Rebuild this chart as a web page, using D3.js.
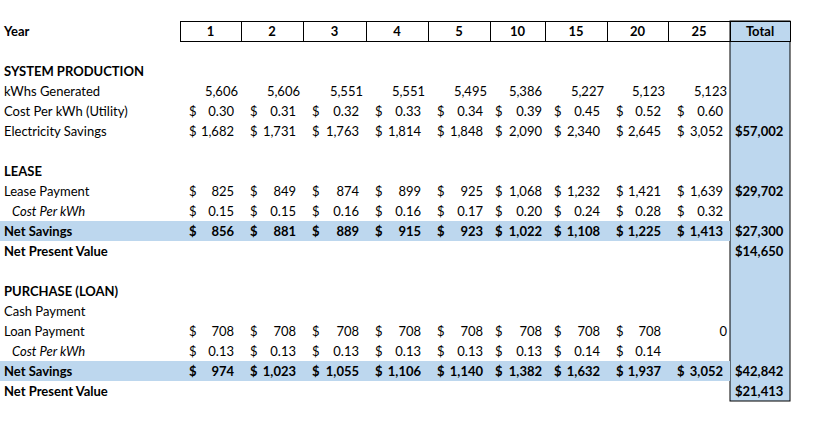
<!DOCTYPE html><html><head><meta charset="utf-8"><script src="https://cdn.jsdelivr.net/npm/d3@7"></script>
<style>body{margin:0;background:#fff}text{font-family:Lato,"Open Sans",sans-serif;font-size:13px;fill:#000}</style></head><body><svg id="c" width="831" height="421"></svg>
<script>
const years=["1","2","3","4","5","10","15","20","25"];
const kwh=[5606,5606,5551,5551,5495,5386,5227,5123,5123];
const costUtility=[0.30,0.31,0.32,0.33,0.34,0.39,0.45,0.52,0.60];
const elecSavings=[1682,1731,1763,1814,1848,2090,2340,2645,3052];
const leasePayment=[825,849,874,899,925,1068,1232,1421,1639];
const leaseCost=[0.15,0.15,0.16,0.16,0.17,0.20,0.24,0.28,0.32];
const leaseNet=[856,881,889,915,923,1022,1108,1225,1413];
const loanPayment=[708,708,708,708,708,708,708,708,null];
const loanCost=[0.13,0.13,0.13,0.13,0.13,0.13,0.14,0.14,null];
const loanNet=[974,1023,1055,1106,1140,1382,1632,1937,3052];
const totals={elec:"$57,002",lease:"$29,702",leaseNet:"$27,300",leaseNpv:"$14,650",loanNet:"$42,842",loanNpv:"$21,413"};
const rowLabels=["Year","","SYSTEM PRODUCTION","kWhs Generated","Cost Per kWh (Utility)","Electricity Savings","","LEASE","Lease Payment","Cost Per kWh","Net Savings","Net Present Value","","PURCHASE (LOAN)","Cash Payment","Loan Payment","Cost Per kWh","Net Savings","Net Present Value"];

const svg=d3.select("#c");
const edges=[180,241,303,366,428,490,545,607,668,730,790];
const cols=[...years,"Total"];
const xL=d3.scaleOrdinal().domain(cols).range(edges.slice(0,-1));
const xR=d3.scaleOrdinal().domain(cols).range(edges.slice(1));
const y=d3.scaleBand().domain(d3.range(rowLabels.length)).range([21,401]);
const blue="#bdd7ee";
svg.append("rect").attr("x",xL("Total")).attr("y",y(0)).attr("width",xR("Total")-xL("Total")).attr("height",y(18)+y.bandwidth()-y(0)).attr("fill",blue).attr("stroke","#000").attr("stroke-width",1);
[10,17].forEach(r=>svg.append("rect").attr("x",0).attr("y",y(r)).attr("width",xL("Total")).attr("height",y.bandwidth()).attr("fill",blue));
cols.forEach(c=>svg.append("rect").attr("x",xL(c)+.5).attr("y",y(0)+.5).attr("width",xR(c)-xL(c)).attr("height",y.bandwidth()).attr("fill",c==="Total"?blue:"none").attr("stroke","#000"));
const bold=new Set([0,2,7,10,11,13,17,18]);
const italic=new Set([9,16]);
const ty=r=>y(r)+y.bandwidth()/2+4.5;
rowLabels.forEach((t,r)=>svg.append("text").attr("x",italic.has(r)?12:4).attr("y",ty(r)).text(t).attr("font-weight",bold.has(r)?"bold":null).attr("font-style",italic.has(r)?"italic":null));
cols.forEach(c=>svg.append("text").attr("x",(xL(c)+xR(c))/2).attr("y",ty(0)).attr("text-anchor","middle").attr("font-weight","bold").text(c));
const f0=d3.format(",.0f"),f2=d3.format(".2f");
function money(r,vals,fmt,b){vals.forEach((v,i)=>{if(v==null)return;const c=years[i];const narrow=(xR(c)-xL(c))<58;
 svg.append("text").attr("x",xL(c)+(narrow?5:9)).attr("y",ty(r)).text("$").attr("font-weight",b?"bold":null);
 svg.append("text").attr("x",xR(c)-(narrow?3:7)).attr("y",ty(r)).attr("text-anchor","end").text(fmt(v)).attr("font-weight",b?"bold":null);});}
kwh.forEach((v,i)=>svg.append("text").attr("x",xR(years[i])-3).attr("y",ty(3)).attr("text-anchor","end").text(f0(v)));
money(4,costUtility,f2);money(5,elecSavings,f0);
money(8,leasePayment,f0);money(9,leaseCost,f2);money(10,leaseNet,f0,true);
money(15,loanPayment,f0);money(16,loanCost,f2);money(17,loanNet,f0,true);
svg.append("text").attr("x",xR("25")-3).attr("y",ty(15)).attr("text-anchor","end").text("0");
[[5,totals.elec],[8,totals.lease],[10,totals.leaseNet],[11,totals.leaseNpv],[17,totals.loanNet],[18,totals.loanNpv]].forEach(([r,t])=>
 svg.append("text").attr("x",xL("Total")+5).attr("y",ty(r)).attr("font-weight","bold").text(t));
</script></body></html>
